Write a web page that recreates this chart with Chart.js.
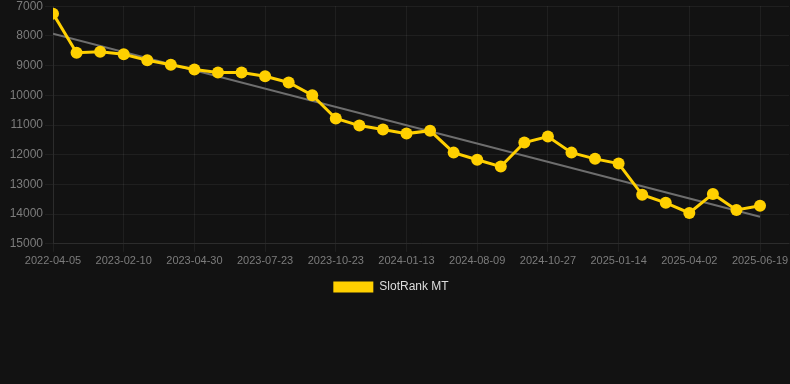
<!DOCTYPE html>
<html>
<head>
<meta charset="utf-8">
<script src="https://cdn.jsdelivr.net/npm/chart.js@4/dist/chart.umd.min.js"></script>
<style>
    html, body { margin: 0; padding: 0; background: #121212; overflow: hidden; }
    #page { width: 790px; height: 384px; position: relative; overflow: hidden; }
    #wrap { width: 808px; height: 306px; position: absolute; left: -13px; top: -3px; }
</style>
</head>
<body>
<div id="page"><div id="wrap"><canvas id="rankChart"></canvas></div></div>
<script>
const dates = [
    "2022-04-05", "2022-07-20", "2022-11-02", "2023-02-10", "2023-03-08", "2023-04-03",
    "2023-04-30", "2023-05-28", "2023-06-25", "2023-07-23", "2023-08-22", "2023-09-22",
    "2023-10-23", "2023-11-19", "2023-12-16", "2024-01-13", "2024-04-01", "2024-06-20",
    "2024-08-09", "2024-09-04", "2024-10-01", "2024-10-27", "2024-11-22", "2024-12-18",
    "2025-01-14", "2025-02-08", "2025-03-07", "2025-04-02", "2025-04-28", "2025-05-24",
    "2025-06-19"
];
const rankValues = [
    7250, 8570, 8530, 8620, 8820, 8970, 9130, 9230, 9230, 9360, 9570, 10000,
    10780, 11020, 11150, 11290, 11190, 11930, 12170, 12400, 11590, 11390, 11930, 12140,
    12300, 13350, 13620, 13960, 13320, 13860, 13720
];
// trend line, only the two ends
const trendValues = [7930, 14090];
const yTicks = [7000, 8000, 9000, 10000, 11000, 12000, 13000, 14000, 15000];

const gridColor = "rgba(255, 255, 255, 0.06)";
const tickColor = "#7c7c7c";
const fontFamily = "Arial, 'Liberation Sans', sans-serif";

new Chart(document.getElementById("rankChart"), {
    type: "line",
    data: {
        datasets: [{
            label: "SlotRank MT",
            data: rankValues.map((v, i) => ({ x: i, y: v })),
            borderColor: "#ffd000",
            backgroundColor: "#ffd000",
            borderWidth: 3,
            pointRadius: 6,
            pointHoverRadius: 6,
            pointBackgroundColor: "#ffd000",
            pointBorderWidth: 0,
            tension: 0,
            order: 1
        }, {
            label: "trend",
            data: [{ x: 0, y: trendValues[0] }, { x: dates.length - 1, y: trendValues[1] }],
            borderColor: "#6e6e6e",
            borderWidth: 2,
            pointRadius: 0,
            order: 2
        }]
    },
    options: {
        responsive: true,
        maintainAspectRatio: false,
        animation: false,
        layout: { padding: 0 },
        scales: {
            x: {
                type: "linear",
                min: 0,
                max: 31.23,
                grid: { color: gridColor },
                border: { color: gridColor },
                ticks: {
                    stepSize: 3,
                    includeBounds: false,
                    autoSkip: false,
                    maxRotation: 0,
                    color: tickColor,
                    font: { size: 11, family: fontFamily },
                    callback: function (value) {
                        return dates[value] ?? "";
                    }
                }
            },
            y: {
                reverse: true,
                min: yTicks[0],
                max: yTicks[yTicks.length - 1],
                afterFit: scale => { scale.width = 66; },
                grid: { color: gridColor },
                border: { color: gridColor },
                ticks: {
                    stepSize: 1000,
                    padding: 2,
                    color: tickColor,
                    font: { size: 12, family: fontFamily },
                    callback: value => String(value)
                }
            }
        },
        plugins: {
            legend: {
                position: "bottom",
                labels: {
                    color: "#dddddd",
                    boxWidth: 40,
                    boxHeight: 11,
                    font: { size: 12, family: fontFamily },
                    filter: item => item.text !== "trend",
                    generateLabels: chart => Chart.defaults.plugins.legend.labels.generateLabels(chart)
                        .map(item => ({ ...item, lineWidth: 0 }))
                }
            },
            tooltip: { enabled: false }
        }
    }
});
</script>
</body>
</html>
